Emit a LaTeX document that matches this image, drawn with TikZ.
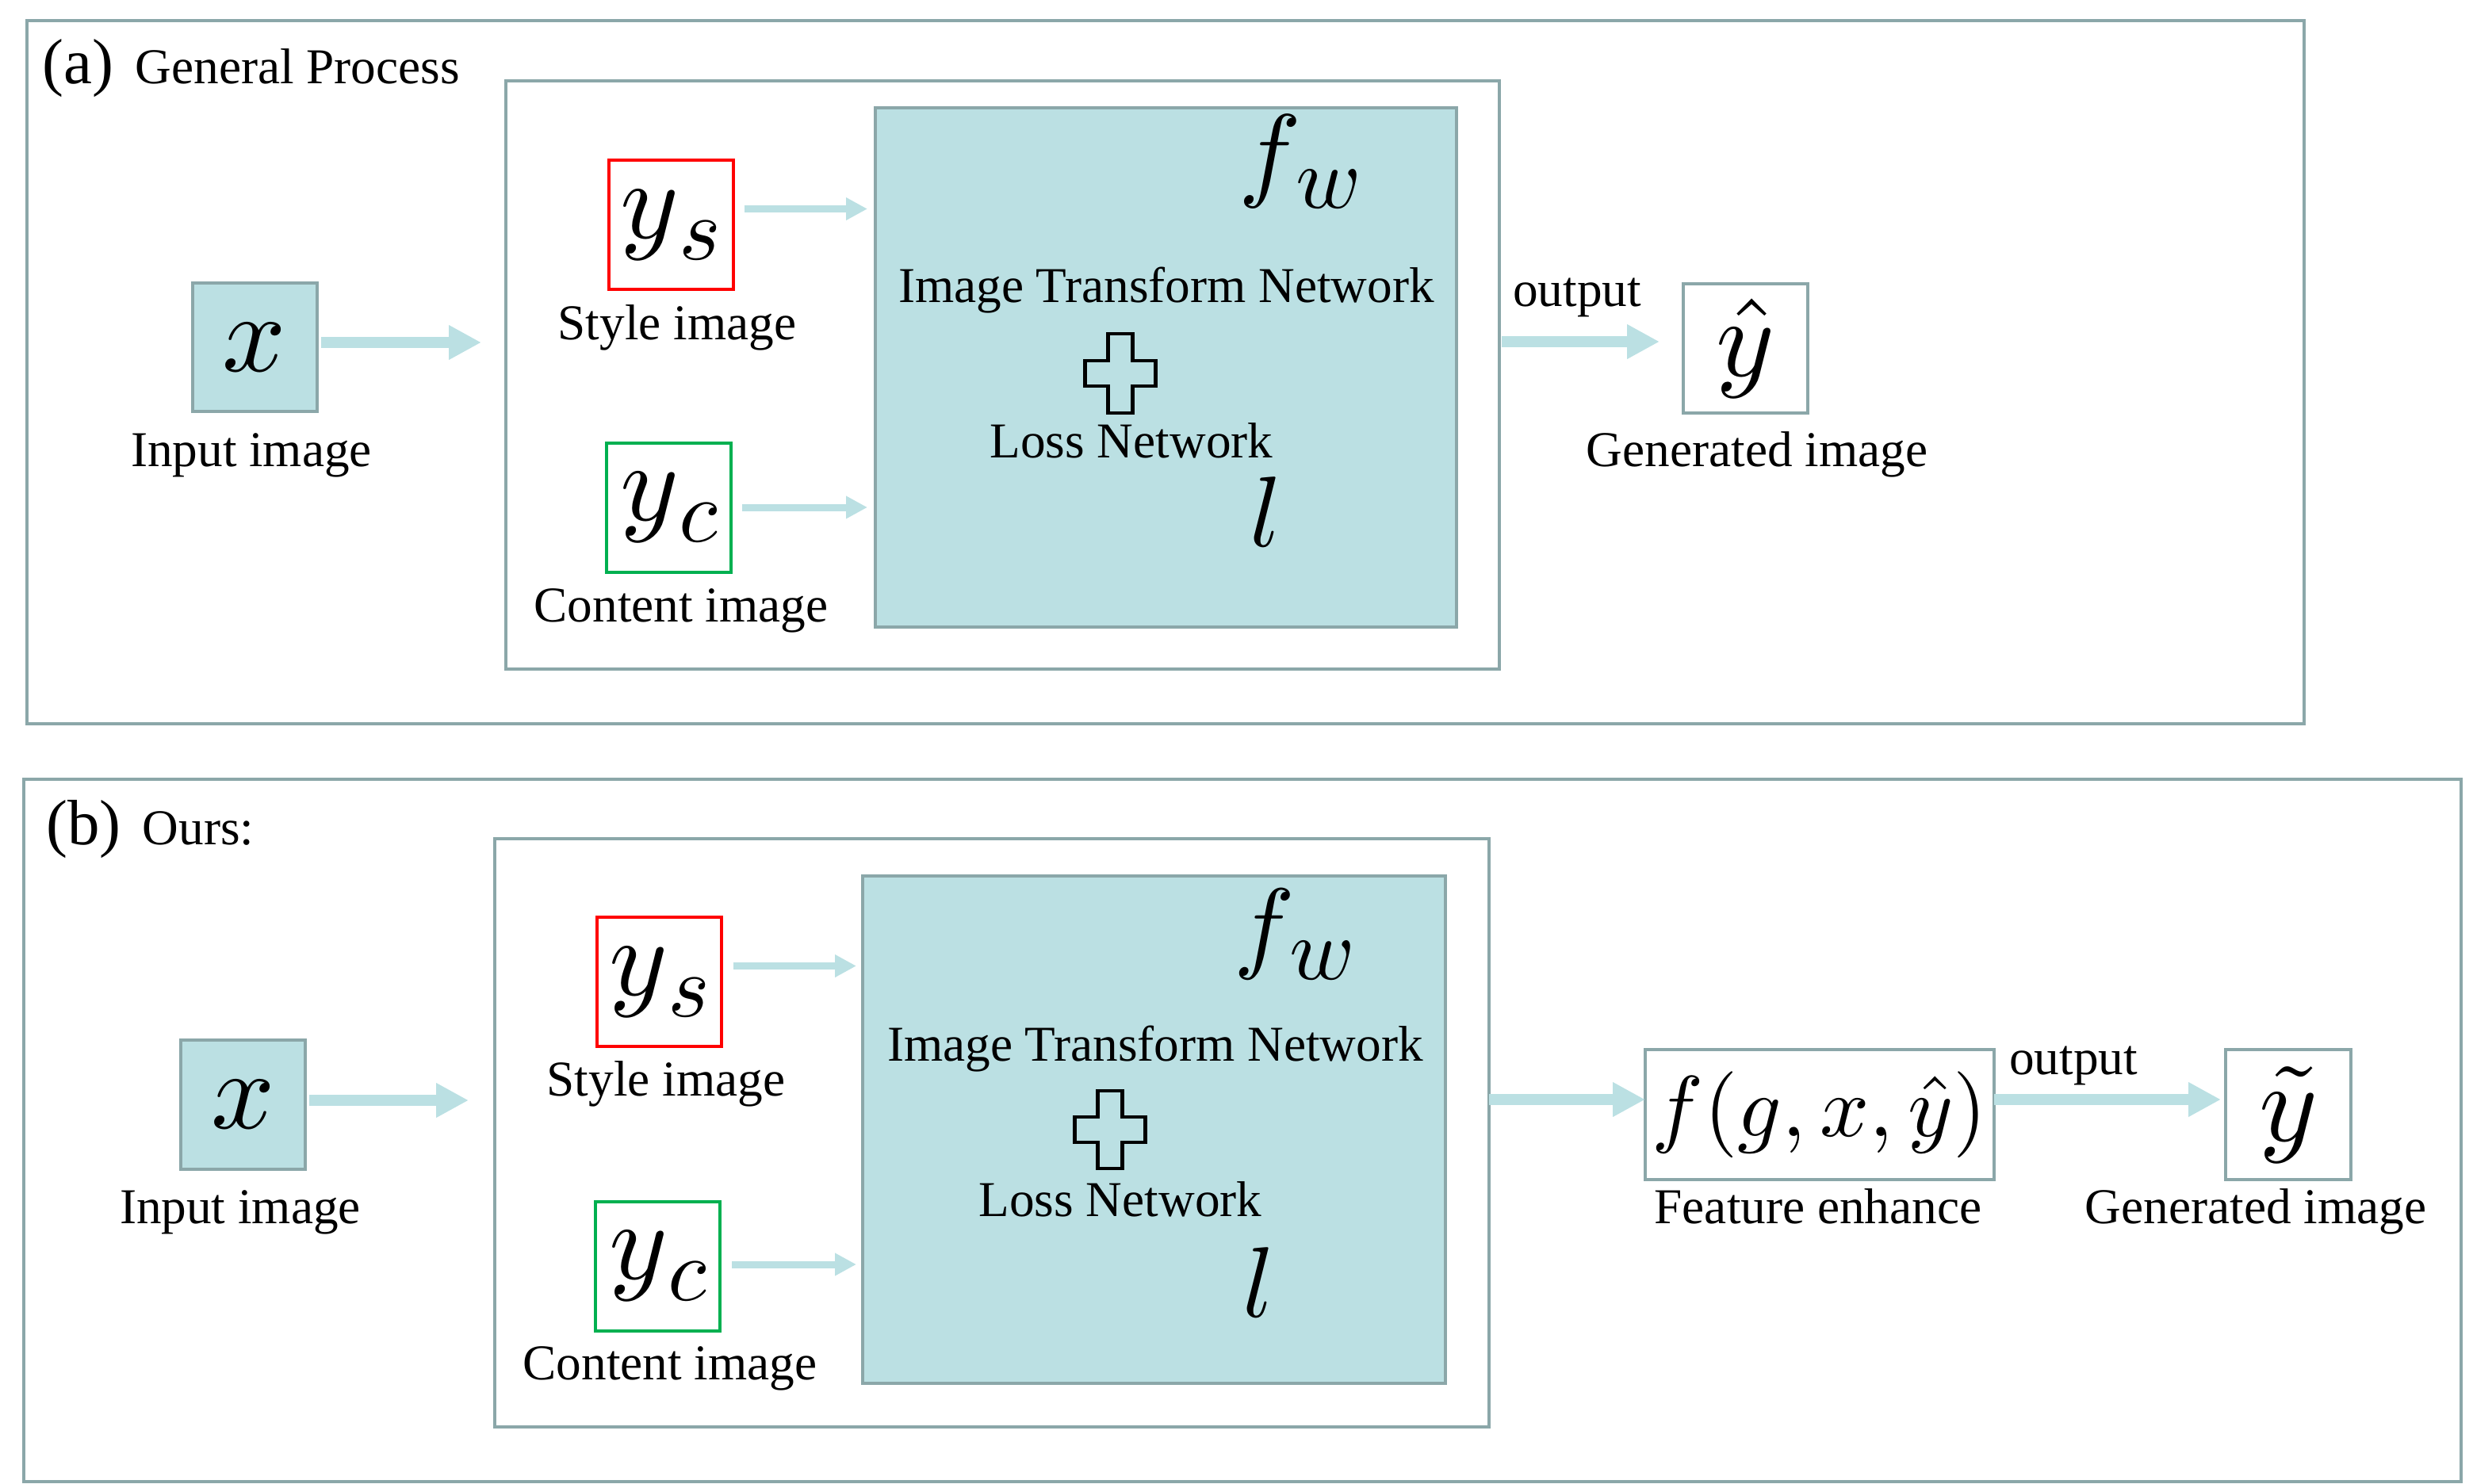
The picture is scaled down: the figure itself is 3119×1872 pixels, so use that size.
\documentclass[tikz,border=0pt]{standalone}
\usepackage{fontspec}
\setmainfont{Liberation Serif}
\usepackage{graphicx}
\usetikzlibrary{arrows.meta}
\definecolor{bordc}{HTML}{8BA7A9}
\definecolor{tealc}{HTML}{BBE0E3}
\definecolor{redc}{HTML}{FF0000}
\definecolor{greenc}{HTML}{00B050}
\newcommand\mathbig[2]{\scalebox{#1}{$#2$}}
\newcommand\ysub[1]{\mathbig{4.0}{y}\raisebox{-7.8pt}{\mathbig{3.2}{#1}}}
\newcommand\fwsym[1]{\mathbig{#1}{f}\kern-2pt\raisebox{-7.3pt}{\mathbig{3.16}{w}}}
\begin{document}
\begin{tikzpicture}[x=0.1mm,y=-0.1mm,
  panel/.style={draw=bordc, line width=0.4mm, inner sep=0pt, outer sep=0pt},
  tealbox/.style={panel, fill=tealc},
  imgbox/.style={draw=bordc, line width=0.4mm, fill=white, minimum width=15.7mm, minimum height=16.3mm, inner sep=0pt, outer sep=0pt},
  inbox/.style={imgbox, fill=tealc},
  stylebox/.style={imgbox, draw=redc},
  contentbox/.style={imgbox, draw=greenc},
  lbl/.style={font=\fontsize{18pt}{21pt}\selectfont, inner sep=0pt, anchor=base},
  tag/.style={font=\fontsize{23pt}{27pt}\selectfont, inner sep=0pt, anchor=base west},
  mathlbl/.style={inner sep=0pt},
  bigarrow/.style={draw=tealc, line width=1.45mm, -{Triangle[length=4.1mm,width=4.1mm]}},
  thinarrow/.style={draw=tealc, line width=0.9mm, -{Triangle[length=2.7mm,width=2.7mm]}},
  plusline/.style={draw=black, line width=0.45mm}
]
\useasboundingbox (0,0) rectangle (3119,1872);

% ================= Panel (a) =================
\node[panel, minimum width=287.2mm, minimum height=88.7mm] (outerA) at (1470,469.5) {};
\node[tag] (tagA) at (53,106) {(a)};
\node[lbl, anchor=base west] (titleA) at (170,106) {General Process};

\node[panel, minimum width=125.3mm, minimum height=74.2mm] (innerA) at (1264.5,473) {};

\node[inbox] (xA) at (321,438) {\mathbig{4.0}{x}};
\node[lbl] (xAl) at (317,588) {Input image};

\node[stylebox] (ysA) at (846,283.5) {\ysub{s}};
\node[lbl] (ysAl) at (854,428) {Style image};
\node[contentbox] (ycA) at (843.5,640) {\ysub{c}};
\node[lbl] (ycAl) at (859,784) {Content image};

\node[tealbox, minimum width=73.3mm, minimum height=65.5mm] (tealA) at (1470.5,463.5) {};
\node[mathlbl, anchor=base west] (fwA) at (1562,237) {\fwsym{3.75}};
\node[lbl] (itnA) at (1471,382) {Image Transform Network};
\coordinate (plusA) at (1413,471);
\draw[plusline] (plusA) +(-15.5,-50) -- +(15.5,-50) -- +(15.5,-16) -- +(44.5,-16) -- +(44.5,16) -- +(15.5,16) -- +(15.5,50) -- +(-15.5,50) -- +(-15.5,16) -- +(-44.5,16) -- +(-44.5,-16) -- +(-15.5,-16) -- cycle;
\node[lbl] (lossA) at (1427,578) {Loss Network};
\node[mathlbl, anchor=base] (lA) at (1597,689) {\mathbig{3.6}{l}};

\node[imgbox] (yhA) at (2201.5,439.5) {\mathbig{4.0}{\hat{y}}};
\node[lbl] (yhAl) at (2216,588) {Generated image};
\node[lbl] (outA) at (1989,387) {output};

\coordinate (a1) at ([yshift=0.6mm]xA.east);
\draw[bigarrow, shorten <=0.5mm, shorten >=3.1mm] (a1) -- (a1 -| innerA.west);
\coordinate (a2) at ([yshift=2mm]ysA.east);
\draw[thinarrow, shorten <=1.4mm, shorten >=1mm] (a2) -- (a2 -| tealA.west);
\coordinate (a3) at (ycA.east);
\draw[thinarrow, shorten <=1.4mm, shorten >=1mm] (a3) -- (a3 -| tealA.west);
\coordinate (a4) at ([yshift=0.85mm]yhA.west);
\draw[bigarrow, shorten <=0.3mm, shorten >=3mm] (a4 -| innerA.east) -- (a4);

% ================= Panel (b) =================
\node[panel, minimum width=307.4mm, minimum height=88.6mm] (outerB) at (1567,1426) {};
\node[tag] (tagB) at (57.5,1065) {(b)};
\node[lbl, anchor=base west] (titleB) at (179,1065) {Ours:};

\node[panel, minimum width=125.4mm, minimum height=74.2mm] (innerB) at (1251,1429) {};

\node[inbox] (xB) at (306.5,1393.5) {\mathbig{4.0}{x}};
\node[lbl] (xBl) at (303,1543) {Input image};

\node[stylebox] (ysB) at (831.5,1238.5) {\ysub{s}};
\node[lbl] (ysBl) at (840,1382) {Style image};
\node[contentbox] (ycB) at (829.5,1597) {\ysub{c}};
\node[lbl] (ycBl) at (845,1740) {Content image};

\node[tealbox, minimum width=73.5mm, minimum height=64mm] (tealB) at (1455.5,1425) {};
\node[mathlbl, anchor=base west] (fwB) at (1556,1210) {\fwsym{3.65}};
\node[lbl] (itnB) at (1457,1338) {Image Transform Network};
\coordinate (plusB) at (1400,1425);
\draw[plusline] (plusB) +(-15.5,-49) -- +(15.5,-49) -- +(15.5,-16) -- +(44.5,-16) -- +(44.5,16) -- +(15.5,16) -- +(15.5,49) -- +(-15.5,49) -- +(-15.5,16) -- +(-44.5,16) -- +(-44.5,-16) -- +(-15.5,-16) -- cycle;
\node[lbl] (lossB) at (1413,1534) {Loss Network};
\node[mathlbl, anchor=base] (lB) at (1588,1661) {\mathbig{3.6}{l}};

\node[imgbox, minimum width=44mm, minimum height=16.4mm] (fB) at (2295,1406) {\mathbig{3.1}{f(g,x,\hat{y})}};
\node[lbl] (fBl) at (2293,1543) {Feature enhance};
\node[imgbox, minimum width=15.8mm, minimum height=16.4mm] (ytB) at (2886,1406) {\mathbig{4.0}{\tilde{y}}};
\node[lbl] (ytBl) at (2845,1543) {Generated image};
\node[lbl] (outB) at (2615,1355) {output};

\coordinate (b1) at ([yshift=0.55mm]xB.east);
\draw[bigarrow, shorten <=0.5mm, shorten >=3.3mm] (b1) -- (b1 -| innerB.west);
\coordinate (b2) at ([yshift=2mm]ysB.east);
\draw[thinarrow, shorten <=1.5mm, shorten >=0.8mm] (b2) -- (b2 -| tealB.west);
\coordinate (b3) at ([yshift=0.2mm]ycB.east);
\draw[thinarrow, shorten <=1.5mm, shorten >=0.8mm] (b3) -- (b3 -| tealB.west);
\coordinate (b4) at ([yshift=1.9mm]fB.west);
\draw[bigarrow] (b4 -| innerB.east) -- (b4);
\coordinate (b5) at ([yshift=1.9mm]ytB.west);
\draw[bigarrow, shorten >=0.6mm] (b5 -| fB.east) -- (b5);
\end{tikzpicture}
\end{document}
